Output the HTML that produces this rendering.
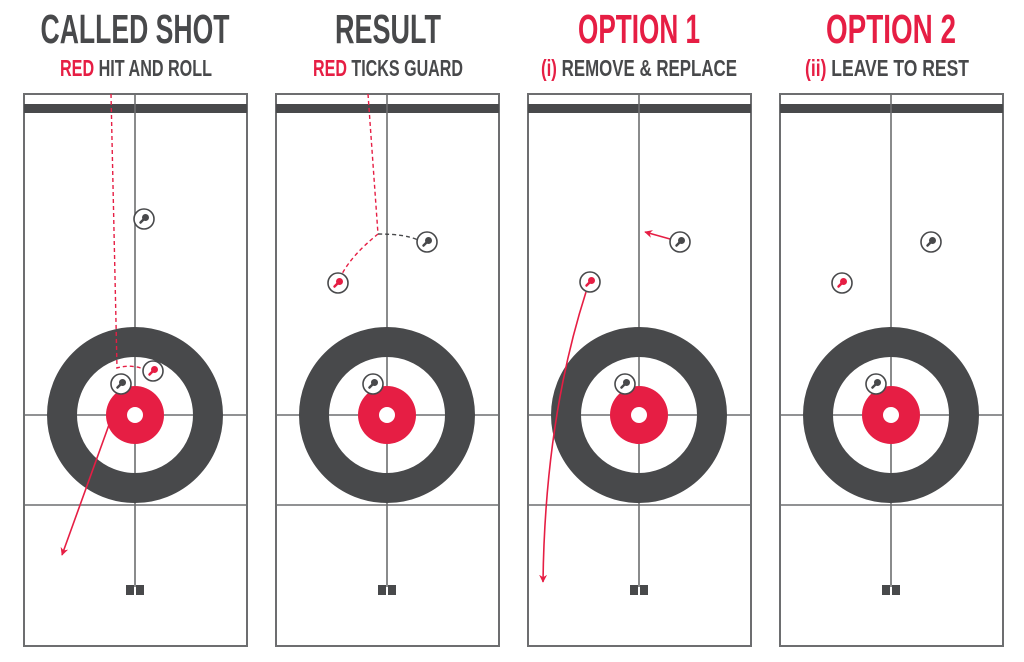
<!DOCTYPE html>
<html><head><meta charset="utf-8"><style>
html,body{margin:0;padding:0;background:#fff;}
svg{display:block;}
text{font-family:"Liberation Sans",sans-serif;font-weight:bold;}
</style></head><body>
<svg width="1024" height="662" viewBox="0 0 1024 662" xmlns="http://www.w3.org/2000/svg">
<defs>
<g id="sheet">
  <rect x="-111" y="94" width="223" height="552" fill="#fff" stroke="#6d6e70" stroke-width="2"/>
  <rect x="-111" y="104" width="223" height="9" fill="#48494b"/>
  <line x1="0" y1="94" x2="0" y2="587" stroke="#6d6e70" stroke-width="1.6"/>
  <line x1="-111" y1="415" x2="112" y2="415" stroke="#6d6e70" stroke-width="1.6"/>
  <line x1="-111" y1="505" x2="112" y2="505" stroke="#6d6e70" stroke-width="1.6"/>
  <circle cx="0" cy="415" r="73" fill="none" stroke="#48494b" stroke-width="30"/>
  <circle cx="0" cy="415" r="29" fill="#e61e44"/>
  <circle cx="0" cy="415" r="8" fill="#fff"/>
  <rect x="-9" y="585" width="8" height="10" fill="#48494b"/>
  <rect x="1" y="585" width="8" height="10" fill="#48494b"/>
</g>
<g id="sd">
  <circle cx="0" cy="0" r="10" fill="#fff" stroke="#48494b" stroke-width="1.6"/>
  <line x1="1.5" y1="-1.5" x2="-3.5" y2="3.5" stroke="#48494b" stroke-width="2.5" stroke-linecap="round"/>
  <circle cx="1.5" cy="-1.5" r="3.5" fill="#48494b"/>
</g>
<g id="sr">
  <circle cx="0" cy="0" r="10" fill="#fff" stroke="#48494b" stroke-width="1.6"/>
  <line x1="1.5" y1="-1.5" x2="-3.5" y2="3.5" stroke="#e61e44" stroke-width="2.5" stroke-linecap="round"/>
  <circle cx="1.5" cy="-1.5" r="3.5" fill="#e61e44"/>
</g>
<marker id="ah" viewBox="0 0 10 10" refX="9" refY="5" markerWidth="5" markerHeight="5" orient="auto" markerUnits="strokeWidth">
  <path d="M0,0 L10,5 L0,10 L3,5 z" fill="#e61e44"/>
</marker>
</defs>

<text x="135" y="43" font-size="41" fill="#48494b" text-anchor="middle" textLength="189" lengthAdjust="spacingAndGlyphs">CALLED SHOT</text>
<text x="136" y="76" font-size="23" fill="#48494b" text-anchor="middle" textLength="152" lengthAdjust="spacingAndGlyphs"><tspan fill="#e61e44">RED</tspan> HIT AND ROLL</text>
<text x="388" y="43" font-size="41" fill="#48494b" text-anchor="middle" textLength="106" lengthAdjust="spacingAndGlyphs">RESULT</text>
<text x="388" y="76" font-size="23" fill="#48494b" text-anchor="middle" textLength="150" lengthAdjust="spacingAndGlyphs"><tspan fill="#e61e44">RED</tspan> TICKS GUARD</text>
<text x="639" y="43" font-size="41" fill="#e61e44" text-anchor="middle" textLength="122" lengthAdjust="spacingAndGlyphs">OPTION 1</text>
<text x="639" y="76" font-size="23" fill="#48494b" text-anchor="middle" textLength="196" lengthAdjust="spacingAndGlyphs"><tspan fill="#e61e44">(i)</tspan> REMOVE &amp; REPLACE</text>
<text x="891" y="43" font-size="41" fill="#e61e44" text-anchor="middle" textLength="130" lengthAdjust="spacingAndGlyphs">OPTION 2</text>
<text x="887" y="76" font-size="23" fill="#48494b" text-anchor="middle" textLength="164" lengthAdjust="spacingAndGlyphs"><tspan fill="#e61e44">(ii)</tspan> LEAVE TO REST</text>

<use href="#sheet" x="135"/>
<use href="#sheet" x="387"/>
<use href="#sheet" x="639"/>
<use href="#sheet" x="891"/>

<path d="M111,94 L117,368 Q130,364 144,369" fill="none" stroke="#e61e44" stroke-width="1.4" stroke-dasharray="4,3"/>
<line x1="110" y1="422" x2="62" y2="555" stroke="#e61e44" stroke-width="1.6" marker-end="url(#ah)"/>
<use href="#sd" x="144" y="219"/>
<use href="#sd" x="121" y="384"/>
<use href="#sr" x="153" y="371"/>

<path d="M368,94 L378,234 Q352,255 342,274" fill="none" stroke="#e61e44" stroke-width="1.4" stroke-dasharray="4,3"/>
<path d="M378,234 Q405,234 418,240" fill="none" stroke="#48494b" stroke-width="1.4" stroke-dasharray="4,3"/>
<use href="#sd" x="427" y="242"/>
<use href="#sr" x="338" y="283"/>
<use href="#sd" x="373" y="384"/>

<line x1="670" y1="239" x2="645" y2="232" stroke="#e61e44" stroke-width="1.6" marker-end="url(#ah)"/>
<path d="M586,292 Q545,420 543,582" fill="none" stroke="#e61e44" stroke-width="1.6" marker-end="url(#ah)"/>
<use href="#sd" x="680" y="242"/>
<use href="#sr" x="590" y="282"/>
<use href="#sd" x="625" y="384"/>

<use href="#sd" x="931" y="242"/>
<use href="#sr" x="842" y="283"/>
<use href="#sd" x="876" y="384"/>
</svg>
</body></html>
